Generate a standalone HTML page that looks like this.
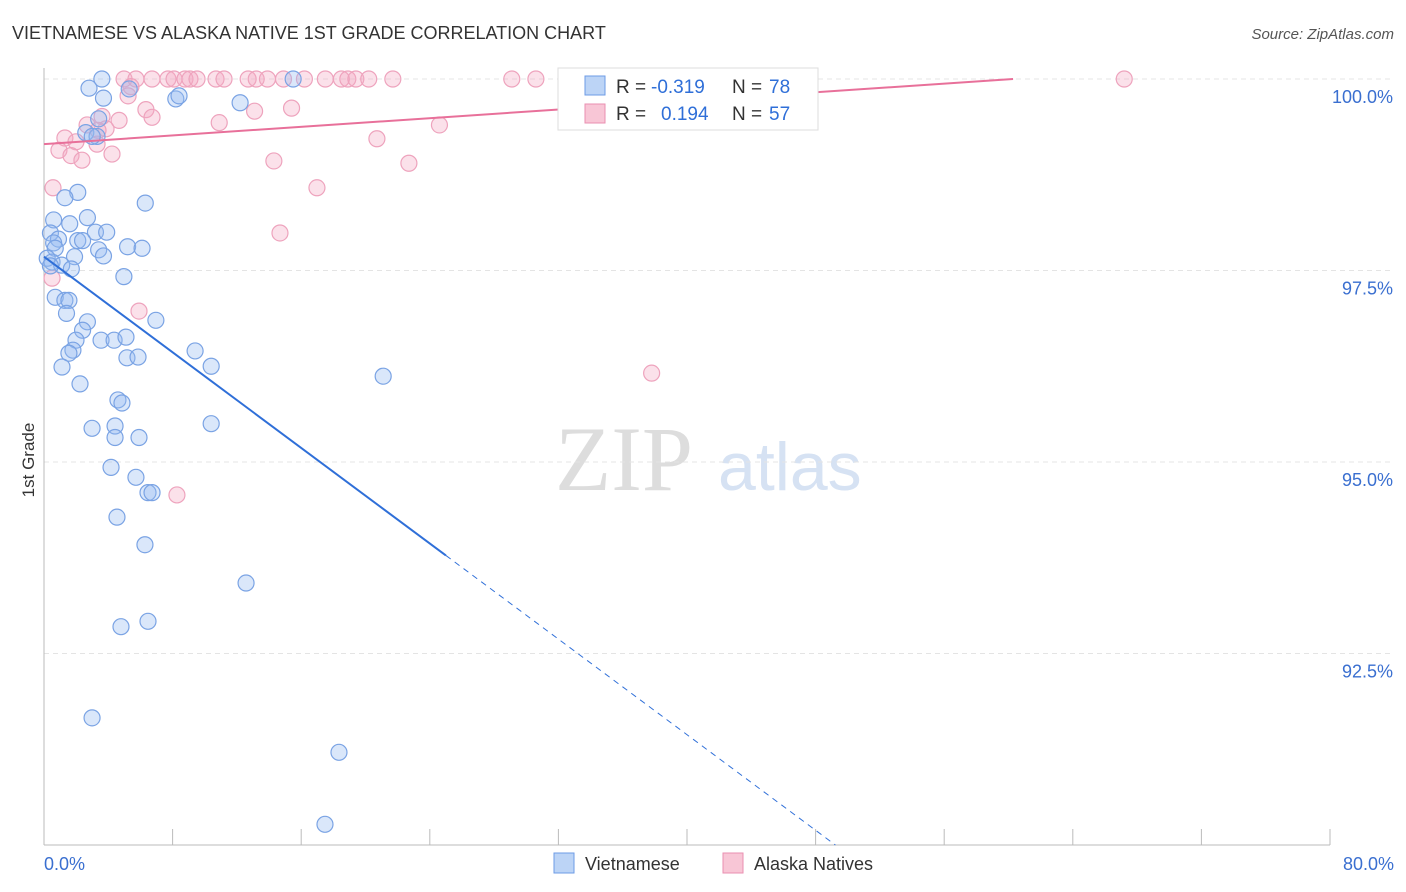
<!DOCTYPE html>
<html><head><meta charset="utf-8"><style>
body{margin:0;background:#fff;font-family:"Liberation Sans",sans-serif}
</style></head><body>
<svg id="chart" width="1406" height="892" style="position:absolute;left:0;top:0">
<text x="12" y="39" font-size="18" fill="#333">VIETNAMESE VS ALASKA NATIVE 1ST GRADE CORRELATION CHART</text>
<text x="1394" y="39" font-size="15" fill="#555" text-anchor="end" font-style="italic">Source: ZipAtlas.com</text>
<text x="34" y="460" font-size="17" fill="#333" text-anchor="middle" transform="rotate(-90 34 460)">1st Grade</text>
<text x="555" y="490" font-size="92" fill="#ddd" font-family="Liberation Serif">ZIP</text>
<text x="718" y="490" font-size="68" fill="#d6e2f3">atlas</text>
<g id="grid"></g><g id="pts"></g><g id="lines"></g>
<g>
<rect x="558" y="68" width="260" height="62" fill="#fff" stroke="#ddd"/>
<rect x="585" y="76" width="20" height="19" fill="#bcd4f6" stroke="#6d9be6"/>
<rect x="585" y="104" width="20" height="19" fill="#f8c6d6" stroke="#ea8fb0"/>
<text x="616" y="93" font-size="19" fill="#333">R =</text>
<text x="651" y="93" font-size="19" fill="#2f6fd8">-0.319</text>
<text x="732" y="93" font-size="19" fill="#333">N =</text>
<text x="769" y="93" font-size="19" fill="#2f6fd8">78</text>
<text x="616" y="120" font-size="19" fill="#333">R =</text>
<text x="661" y="120" font-size="19" fill="#2f6fd8">0.194</text>
<text x="732" y="120" font-size="19" fill="#333">N =</text>
<text x="769" y="120" font-size="19" fill="#2f6fd8">57</text>
</g>
<g>
<rect x="554" y="853" width="20" height="20" fill="#bcd4f6" stroke="#6d9be6"/>
<text x="585" y="870" font-size="18" fill="#333">Vietnamese</text>
<rect x="723" y="853" width="20" height="20" fill="#f8c6d6" stroke="#ea8fb0"/>
<text x="754" y="870" font-size="18" fill="#333">Alaska Natives</text>
</g>
</svg>
<script>
const yTicks=[100,97.5,95,92.5];
const yTickLabels=["100.0%","97.5%","95.0%","92.5%"];
const xTickVals=[0,8,16,24,32,40,48,56,64,72,80];
const xEndLabels=["0.0%","80.0%"];
const blueX=[3.6,2.8,5.3,3.7,8.2,8.4,12.2,15.5,3.4,2.6,3.3,3.0,2.1,1.3,6.3,0.6,2.7,1.6,3.2,3.9,5.2,6.1,0.4,0.9,0.6,2.1,2.4,0.7,3.4,3.7,1.9,0.2,0.5,1.1,1.7,0.4,4.97,0.7,1.3,1.55,1.4,6.96,2.7,2.4,1.99,3.55,4.36,5.1,1.8,1.55,5.16,5.85,9.4,10.4,1.12,2.24,21.1,4.6,4.85,2.99,4.42,4.42,5.91,10.4,4.17,5.72,6.47,6.72,4.54,6.28,12.57,6.47,4.79,2.99,18.35,17.48];
const blueY=[100,99.88,99.87,99.75,99.74,99.78,99.69,100,99.48,99.3,99.25,99.25,98.52,98.45,98.38,98.16,98.19,98.11,98.0,98.0,97.81,97.79,97.99,97.91,97.86,97.89,97.89,97.79,97.77,97.69,97.68,97.66,97.61,97.57,97.52,97.56,97.42,97.15,97.11,97.11,96.94,96.85,96.83,96.72,96.59,96.59,96.59,96.63,96.46,96.42,96.36,96.37,96.45,96.25,96.24,96.02,96.12,95.81,95.77,95.44,95.47,95.32,95.32,95.5,94.93,94.8,94.6,94.6,94.28,93.92,93.42,92.92,92.85,91.66,91.21,90.27];
const pinkX=[4.98,6.72,5.72,7.71,8.09,8.77,9.08,9.52,10.7,11.2,12.7,13.2,13.9,14.9,16.2,17.5,18.5,18.9,19.4,20.2,21.7,29.1,30.6,33.0,41.4,44.8,67.2,5.41,5.23,6.34,6.72,4.67,3.61,2.68,3.86,10.9,13.1,15.4,24.6,1.3,1.99,3.3,0.93,1.68,2.36,4.23,20.71,14.3,22.7,0.56,16.98,14.68,0.5,5.91,37.8,8.27,3.36];
const pinkY=[100,100,100,100,100,100,100,100,100,100,100,100,100,100,100,100,100,100,100,100,100,100,100,100,100,100,100,99.9,99.78,99.6,99.5,99.46,99.51,99.4,99.35,99.43,99.58,99.62,99.4,99.23,99.18,99.15,99.07,99.0,98.94,99.02,99.22,98.93,98.9,98.58,98.58,97.99,97.4,96.97,96.16,94.57,99.33];
const blueFit=[97.68,-0.156];
const pinkFit=[99.15,0.0141];

const X=v=>44+v*16.075, Y=v=>79+(100-v)*76.6;
const NS="http://www.w3.org/2000/svg";
function mk(t,a,p){const e=document.createElementNS(NS,t);for(const k in a)e.setAttribute(k,a[k]);p.appendChild(e);return e;}
const grid=document.getElementById('grid'),pts=document.getElementById('pts'),lines=document.getElementById('lines');
yTicks.forEach((v,i)=>{
 const l=mk('line',{x1:44,x2:1394,y1:Y(v),y2:Y(v),stroke:'#e4e4e4','stroke-dasharray':'5,4'},grid);
 
 
 const t=mk('text',{x:1393,y:Y(v)+24,'font-size':18,fill:'#3a6fd0','text-anchor':'end'},grid);
 t.textContent=yTickLabels[i];
 
 
});
const ax=mk('line',{x1:44,x2:44,y1:68,y2:845,stroke:'#bbb'},grid);


const bx=mk('line',{x1:44,x2:1330,y1:845,y2:845,stroke:'#bbb'},grid);


xTickVals.forEach(v=>{
 const l=mk('line',{x1:X(v),x2:X(v),y1:829,y2:845,stroke:'#bbb'},grid);
 
 
});
const xl0=mk('text',{x:44,y:870,'font-size':18,fill:'#3a6fd0'},grid);xl0.textContent=xEndLabels[0];


const xl1=mk('text',{x:1394,y:870,'font-size':18,fill:'#3a6fd0','text-anchor':'end'},grid);xl1.textContent=xEndLabels[1];


pinkX.forEach((x,i)=>{
 const c=mk('circle',{cx:X(x),cy:Y(pinkY[i]),r:8,fill:'rgba(244,170,195,0.35)',stroke:'#eea3bd','stroke-width':1.2},pts);
 
 
});
blueX.forEach((x,i)=>{
 const c=mk('circle',{cx:X(x),cy:Y(blueY[i]),r:8,fill:'rgba(150,185,240,0.35)',stroke:'#7aa3e4','stroke-width':1.2},pts);
 
 
});
const bf=x=>blueFit[0]+blueFit[1]*x;
const l1=mk('line',{x1:X(0),y1:Y(bf(0)),x2:X(25),y2:Y(bf(25)),stroke:'#2f6fd8','stroke-width':2},lines);


const xe=(90-blueFit[0])/blueFit[1];
const l2=mk('line',{x1:X(25),y1:Y(bf(25)),x2:X(xe),y2:Y(90),stroke:'#2f6fd8','stroke-width':1,'stroke-dasharray':'6,5'},lines);


const px=(100-pinkFit[0])/pinkFit[1];
const l3=mk('line',{x1:X(0),y1:Y(pinkFit[0]),x2:X(px),y2:Y(100),stroke:'#e8709a','stroke-width':2},lines);


</script>
</body></html>
